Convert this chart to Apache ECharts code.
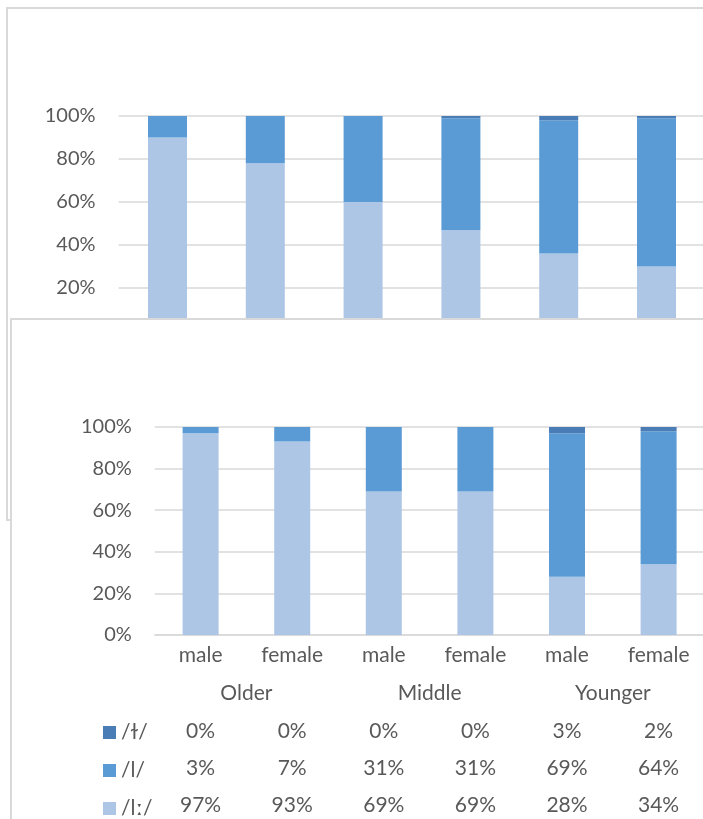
<!DOCTYPE html>
<html>
<head>
<meta charset="utf-8">
<script src="https://cdn.jsdelivr.net/npm/echarts@6/dist/echarts.min.js"></script>
<style>
  html, body { margin: 0; padding: 0; background: #fff; overflow: hidden; }
  body { width: 703px; height: 819px; position: relative; }
  .panel { position: absolute; background: #fff; border: 2px solid #d9d9d9; }
  #chartTop { left: 6px; top: 7px; width: 726px; height: 510px; }
  #chartBottom { left: 10px; top: 318px; width: 720px; height: 520px; }
</style>
</head>
<body>
<div id="chartTop" class="panel"></div>
<div id="chartBottom" class="panel"></div>
<script>
// categories
var speakers = ['male', 'female', 'male', 'female', 'male', 'female'];
var ageGroups = ['Older', 'Middle', 'Younger'];
var seriesNames = ['/ɫ/', '/l/', '/lː/'];
var yTicks = [0, 20, 40, 60, 80, 100];

// upper chart (partly hidden)
var topDark = [0, 0, 0, 1, 2, 1];
var topMid = [10, 22, 40, 52, 62, 69];
var topLight = [90, 78, 60, 47, 36, 30];

// lower chart - values from the data table
var dark = [0, 0, 0, 0, 3, 2];
var mid = [3, 7, 31, 31, 69, 64];
var light = [97, 93, 69, 69, 28, 34];

var colors = ['#4a7db5', '#5b9bd5', '#adc6e6'];
var textColor = '#595959';
var gridColor = '#d9d9d9';
var font = 'Lato';

function yAxisOpt() {
    return {
        type: 'value',
        min: yTicks[0],
        max: yTicks[yTicks.length - 1],
        interval: yTicks[1] - yTicks[0],
        axisLine: { show: false },
        axisTick: { show: false },
        splitLine: { lineStyle: { color: gridColor, width: 1.5 } },
        axisLabel: { formatter: '{value}%', color: textColor, fontSize: 20, fontFamily: font, margin: 23 }
    };
}

function barSeries(names, lists, width) {
    // stack bottom-up: light, mid, dark
    var out = [];
    for (var i = lists.length - 1; i >= 0; i--) {
        out.push({
            name: names[i],
            type: 'bar',
            stack: 'all',
            barWidth: width,
            itemStyle: { color: colors[i] },
            data: lists[i]
        });
    }
    return out;
}

var topChart = echarts.init(document.getElementById('chartTop'));
topChart.setOption({
    animation: false,
    grid: { left: 110.6, top: 107, width: 586.8, height: 215 },
    xAxis: {
        type: 'category',
        data: speakers,
        axisLine: { lineStyle: { color: gridColor, width: 1.5 } },
        axisTick: { show: false },
        axisLabel: { show: false }
    },
    yAxis: yAxisOpt(),
    series: barSeries(seriesNames, [topDark, topMid, topLight], 39)
});

// extra x axes used as the rows of the data table
function tableAxis(offset, formatter) {
    return {
        type: 'category',
        position: 'bottom',
        offset: offset,
        data: speakers,
        axisLine: { show: false },
        axisTick: { show: false },
        axisLabel: { color: textColor, fontSize: 21, fontFamily: font, margin: 9, interval: 0, formatter: formatter }
    };
}

function pct(list) {
    return function (v, idx) { return list[idx] + '%'; };
}

var bottomChart = echarts.init(document.getElementById('chartBottom'));
bottomChart.setOption({
    animation: false,
    grid: { left: 142.8, top: 107, width: 549.6, height: 208 },
    legend: {
        data: seriesNames,
        orient: 'vertical',
        left: 86,
        top: 397,
        itemWidth: 13,
        itemHeight: 13,
        itemGap: 17,
        icon: 'rect',
        selectedMode: false,
        textStyle: { color: textColor, fontSize: 21, fontFamily: font, lineHeight: 20 }
    },
    xAxis: [
        {
            type: 'category',
            data: speakers,
            axisLine: { lineStyle: { color: gridColor, width: 1.5 } },
            axisTick: { show: false },
            axisLabel: { color: textColor, fontSize: 21, fontFamily: font, margin: 10, interval: 0 }
        },
        {
            type: 'category',
            position: 'bottom',
            offset: 39,
            data: ageGroups,
            axisLine: { show: false },
            axisTick: { show: false },
            axisLabel: { color: textColor, fontSize: 21, fontFamily: font, margin: 9 }
        },
        tableAxis(77, pct(dark)),
        tableAxis(114, pct(mid)),
        tableAxis(151, pct(light))
    ],
    yAxis: yAxisOpt(),
    series: barSeries(seriesNames, [dark, mid, light], 36)
});
</script>
</body>
</html>
